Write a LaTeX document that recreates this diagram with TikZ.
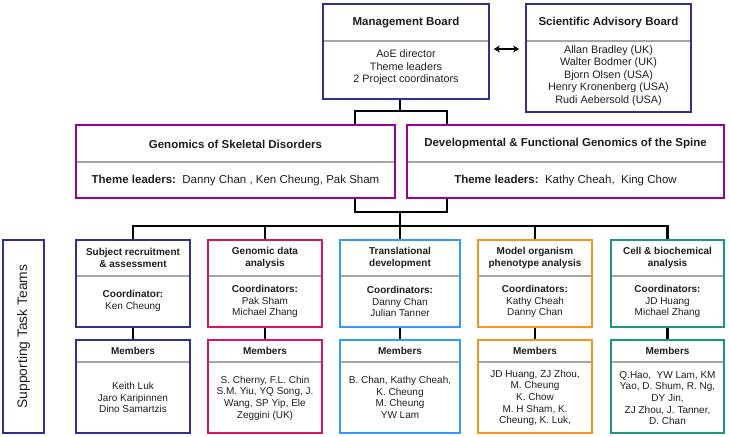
\documentclass[tikz,border=0pt]{standalone}
\usepackage{fontspec}
\setmainfont{Liberation Sans}
\usetikzlibrary{fit,arrows.meta,backgrounds}
\definecolor{navy}{RGB}{46,49,146}
\definecolor{purp}{RGB}{153,0,153}
\definecolor{pinkred}{RGB}{214,21,100}
\definecolor{skyb}{RGB}{51,153,255}
\definecolor{orng}{RGB}{247,147,30}
\definecolor{tealc}{RGB}{26,150,136}
\definecolor{sepgray}{RGB}{166,166,166}
\definecolor{txt}{RGB}{30,30,30}
\newcommand\mkbox[7]{%
  \node[boxst, draw=#2, fit={(#3,#4) (#5,#6)}] (#1) {};
  \draw[sepline] (#3+1.3,#7) -- (#5-1.3,#7);}
\begin{document}
\begin{tikzpicture}[x=1pt,y=-1pt,
  boxst/.style={rectangle, line width=2.6pt, inner sep=0pt, fill=white},
  sepline/.style={sepgray, line width=1.1pt},
  conn/.style={black, line width=2.4pt, line cap=rect},
  ttl/.style={font=\bfseries\fontsize{11.5}{13.5}\selectfont, text=txt, inner sep=0pt},
  tbody/.style={font=\fontsize{11.5}{13.5}\selectfont, text=txt, inner sep=0pt},
  bod/.style={font=\fontsize{10.8}{12.5}\selectfont, align=center, text=txt, inner sep=0pt},
  tt/.style={font=\bfseries\fontsize{10}{11.5}\selectfont, align=center, text=txt, inner sep=0pt},
  tb/.style={font=\fontsize{10}{11.7}\selectfont, align=center, text=txt, inner sep=0pt},
  dblarrow/.style={{Stealth[length=6pt,width=7pt]}-{Stealth[length=6pt,width=7pt]}, line width=1.8pt, black, shorten <=3.5pt, shorten >=5.5pt}]
\useasboundingbox (0,0) rectangle (730,436);

% top boards
\mkbox{mb}{navy}{323}{4}{489}{99}{41}
\mkbox{sab}{navy}{526}{4}{691}{112}{41}
\node[ttl] (mbt) at (406,22.5) {Management Board};
\node[bod] (mbb) at (406,67.5) {AoE director\\Theme leaders\\2 Project coordinators};
\node[ttl] (sabt) at (608.5,22.5) {Scientific Advisory Board};
\node[bod] (sabb) at (608.5,75.5) {Allan Bradley (UK)\\Walter Bodmer (UK)\\Bjorn Olsen (USA)\\Henry Kronenberg (USA)\\Rudi Aebersold (USA)};
\coordinate (arr) at (505,49);
\draw[dblarrow] (mb.east |- arr) -- (sab.west |- arr);

% themes
\mkbox{th1}{purp}{76}{125}{395}{198}{162}
\mkbox{th2}{purp}{407}{125}{724}{198}{162}
\node[ttl] (th1t) at (235.5,144) {Genomics of Skeletal Disorders};
\node[tbody] (th1b) at (235.5,181) {\textbf{Theme leaders:}\ \ Danny Chan , Ken Cheung, Pak Sham};
\node[ttl] (th2t) at (565.5,144) {Developmental \& Functional Genomics of the Spine};
\node[tbody] (th2b) at (565.5,181) {\textbf{Theme leaders:}\ \ Kathy Cheah,\ \ King Chow};

% supporting label
\node[boxst, draw=navy, fit={(3,240) (44,433)}] (sup) {};
\node[font=\fontsize{13.8}{16}\selectfont, text=txt, rotate=90, inner sep=0pt] (supt) at (23.5,336.5) {Supporting Task Teams};

% teams: top boxes 240-327 sep 276, member boxes 340-433 sep 362
\mkbox{t1}{navy}{76}{240}{190}{327}{276}
\mkbox{m1}{navy}{76}{340}{190}{433}{362}
\mkbox{t2}{pinkred}{208}{240}{322}{327}{276}
\mkbox{m2}{pinkred}{208}{340}{322}{433}{362}
\mkbox{t3}{skyb}{340}{240}{460}{327}{276}
\mkbox{m3}{skyb}{340}{340}{460}{433}{362}
\mkbox{t4}{orng}{478}{240}{592}{327}{276}
\mkbox{m4}{orng}{478}{340}{592}{433}{362}
\mkbox{t5}{tealc}{611}{240}{724}{327}{276}
\mkbox{m5}{tealc}{611}{340}{724}{433}{362}

\node[tt] (t1a) at (133,258) {Subject recruitment\\\& assessment};
\node[tb] (t1b) at (133,301) {\textbf{Coordinator:}\\Ken Cheung};
\node[tt] (m1a) at (133,351) {Members};
\node[tb] (m1b) at (133,397.5) {Keith Luk\\Jaro Karipinnen\\Dino Samartzis};

\node[tt] (t2a) at (265,258) {Genomic data\\analysis};
\node[tb] (t2b) at (265,301.5) {\textbf{Coordinators:}\\Pak Sham\\Michael Zhang};
\node[tt] (m2a) at (265,351) {Members};
\node[tb] (m2b) at (265,398) {S. Cherny, F.L. Chin\\S.M. Yiu, YQ Song, J.\\Wang, SP Yip, Ele\\Zeggini (UK)};

\node[tt] (t3a) at (400,258) {Translational\\development};
\node[tb] (t3b) at (400,301.5) {\textbf{Coordinators:}\\Danny Chan\\Julian Tanner};
\node[tt] (m3a) at (400,351) {Members};
\node[tb] (m3b) at (400,397.5) {B. Chan, Kathy Cheah,\\K. Cheung\\M. Cheung\\YW Lam};

\node[tt] (t4a) at (535,258) {Model organism\\phenotype analysis};
\node[tb] (t4b) at (535,301.5) {\textbf{Coordinators:}\\Kathy Cheah\\Danny Chan};
\node[tt] (m4a) at (535,351) {Members};
\node[tb] (m4b) at (535,398) {JD Huang, ZJ Zhou,\\M. Cheung\\K. Chow\\M. H Sham, K.\\Cheung, K. Luk,};

\node[tt] (t5a) at (667.5,258) {Cell \& biochemical\\analysis};
\node[tb] (t5b) at (667.5,301.5) {\textbf{Coordinators:}\\JD Huang\\Michael Zhang};
\node[tt] (m5a) at (667.5,351) {Members};
\node[tb] (m5b) at (667.5,398) {Q.Hao,\ \ YW Lam, KM\\Yao, D. Shum, R. Ng,\\DY Jin,\\ZJ Zhou, J. Tanner,\\D. Chan};

% connectors (behind the boxes)
\begin{scope}[on background layer]
\fill[white] (0,0) rectangle (730,436);
\coordinate (j0) at (400,111);
\coordinate (a1) at (355,111);
\coordinate (a2) at (447,111);
\draw[conn] (mb.south -| j0) -- (j0);
\draw[conn] (th1.north -| a1) -- (a1) -- (a2) -- (th2.north -| a2);
\coordinate (b0) at (400,212);
\coordinate (b1) at (355,212);
\coordinate (b2) at (447,212);
\coordinate (c0) at (400,226);
\draw[conn] (th1.south -| b1) -- (b1) -- (b2) -- (th2.south -| b2);
\draw[conn] (b0) -- (c0);
\draw[conn] (t1.north) -- (t1.north |- c0) -- (t5.north |- c0) -- (t5.north);
\draw[conn] (t2.north |- c0) -- (t2.north);
\draw[conn] (t3.north |- c0) -- (t3.north);
\draw[conn] (t4.north |- c0) -- (t4.north);
\draw[conn] (t1.south) -- (m1.north);
\draw[conn] (t2.south) -- (m2.north);
\draw[conn] (t3.south) -- (m3.north);
\draw[conn] (t4.south) -- (m4.north);
\draw[conn] (t5.south) -- (m5.north);
\end{scope}
\end{tikzpicture}
\end{document}
